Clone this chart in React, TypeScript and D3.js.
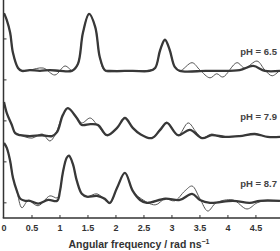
import * as d3 from "d3";

// angular frequency (rad/ns) vs intensity (a.u.), one panel per pH
const panelLabels = ["pH = 6.5", "pH = 7.9", "pH = 8.7"];
const panelOffsets = [3.22, 1.63, 0];

const fit65: [number, number][] = [
  [0, 1.41], [0.05, 1.24], [0.11, 0.93], [0.16, 0.44], [0.25, 0.07], [0.32, 0],
  [0.46, 0.02], [0.64, 0], [0.82, 0.02], [1.0, 0], [1.21, 0], [1.32, 0.17],
  [1.41, 0.93], [1.52, 1.39], [1.63, 1.07], [1.71, 0.34], [1.8, 0.02], [1.89, 0],
  [2.3, 0], [2.6, 0], [2.7, 0.07], [2.79, 0.51], [2.875, 0.76], [2.96, 0.51],
  [3.05, 0.1], [3.14, 0], [3.6, 0], [3.86, 0], [4.21, 0.02], [4.45, 0.12],
  [4.66, 0], [4.93, 0],
];
const data65: [number, number][] = [
  [0, 1.41], [0.05, 1.24], [0.11, 0.93], [0.16, 0.44], [0.25, 0.07], [0.32, 0],
  [0.46, 0.02], [0.7, 0.07], [0.91, -0.1], [1.09, 0.12], [1.23, 0], [1.32, 0.17],
  [1.41, 0.93], [1.52, 1.39], [1.63, 1.07], [1.71, 0.34], [1.8, 0], [1.98, -0.02],
  [2.34, 0], [2.6, 0.02], [2.7, 0.07], [2.79, 0.51], [2.875, 0.76], [2.96, 0.51],
  [3.05, 0.1], [3.14, 0], [3.36, 0.2], [3.5, 0.02], [3.68, -0.17], [3.8, -0.07],
  [3.91, -0.15], [4.16, 0.2], [4.3, 0.07], [4.52, 0.24], [4.66, 0.02], [4.79, -0.12],
  [4.93, 0.02],
];

const fit79: [number, number][] = [
  [0, 0.83], [0.05, 0.56], [0.14, 0.27], [0.2, 0.07], [0.29, 0.02], [0.46, 0],
  [0.68, 0.02], [0.86, 0], [0.95, 0.1], [1.05, 0.51], [1.14, 0.68], [1.3, 0.44],
  [1.39, 0.27], [1.54, 0.29], [1.68, 0.27], [1.84, 0.02], [2.02, 0.2], [2.16, 0.44],
  [2.3, 0.2], [2.43, 0.05], [2.64, -0.05], [2.79, 0.15], [2.91, 0.32], [3.11, 0.02],
  [3.32, 0.15], [3.54, -0.05], [3.71, 0.02], [3.95, -0.02], [4.21, 0], [4.48, 0.05],
  [4.71, -0.02], [4.93, -0.02],
];
const data79: [number, number][] = [
  [0, 0.83], [0.05, 0.56], [0.14, 0.27], [0.2, 0.07], [0.29, 0.02], [0.5, -0.05],
  [0.68, 0.05], [0.82, -0.12], [0.91, 0.02], [1.05, 0.51], [1.14, 0.68], [1.27, 0.51],
  [1.39, 0.32], [1.54, 0.44], [1.68, 0.24], [1.84, 0.02], [2.02, 0.2], [2.16, 0.44],
  [2.3, 0.2], [2.43, 0.05], [2.64, -0.05], [2.79, 0.18], [2.91, 0.34], [3.11, 0.02],
  [3.29, 0.32], [3.43, 0.1], [3.54, -0.05], [3.71, 0.05], [3.86, -0.02], [4.21, 0],
  [4.48, 0.05], [4.71, -0.02], [4.93, -0.02],
];

const fit87: [number, number][] = [
  [0, 1.46], [0.05, 1.34], [0.11, 1.02], [0.16, 0.61], [0.23, 0.29], [0.29, 0.1],
  [0.38, 0.05], [0.46, 0.05], [0.61, -0.02], [0.79, 0.07], [0.95, 0.05], [1.0, 0.29],
  [1.05, 0.73], [1.12, 1.1], [1.16, 1.15], [1.23, 0.95], [1.3, 0.54], [1.39, 0.22],
  [1.48, 0.15], [1.66, 0.17], [1.8, 0.1], [1.89, 0], [2.02, 0.37], [2.16, 0.73],
  [2.3, 0.29], [2.43, 0.07], [2.55, 0], [2.88, 0.1], [3.14, 0.07], [3.36, 0.22],
  [3.5, 0.07], [3.68, 0], [4.09, 0.05], [4.39, 0], [4.57, 0.05], [4.93, 0.05],
];
const data87: [number, number][] = [
  [0, 1.46], [0.05, 1.34], [0.11, 1.02], [0.16, 0.61], [0.23, 0.29], [0.32, -0.12],
  [0.43, 0.05], [0.61, -0.07], [0.82, 0.17], [0.95, 0.12], [1.0, 0.29], [1.05, 0.73],
  [1.12, 1.1], [1.16, 1.15], [1.23, 0.95], [1.3, 0.54], [1.39, 0.22], [1.48, 0.15],
  [1.66, 0.22], [1.8, 0.07], [1.89, -0.02], [2.02, 0.37], [2.16, 0.73], [2.3, 0.29],
  [2.43, 0.12], [2.7, -0.05], [2.88, 0.1], [3.05, 0.05], [3.23, 0.29], [3.36, 0.41],
  [3.5, 0.1], [3.64, -0.2], [3.79, 0], [4.09, 0.07], [4.34, -0.15], [4.52, 0],
  [4.66, 0.05], [4.93, 0.05],
];

const fits = [fit65, fit79, fit87];
const measured = [data65, data79, data87];

const xTicks = [0.5, 1, 1.5, 2, 2.5, 3, 3.5, 4, 4.5];
const xTickLabels = [0, 0.5, 1, 1.5, 2, 2.5, 3, 3.5, 4, 4.5];
const yTicks = [0, 1, 2, 3, 4];

export default function App() {
  const width = 280;
  const height = 251;
  const x = d3.scaleLinear().domain([0, 4.93]).range([4, 280]);
  const y = d3.scaleLinear().domain([-0.37, 4.95]).range([218, 0]);
  const font = "'Liberation Sans', Arial, sans-serif";

  const lineFor = (off: number) =>
    d3.line<[number, number]>()
      .x(d => x(d[0]))
      .y(d => y(d[1] + off))
      .curve(d3.curveCatmullRom.alpha(0.5));

  return (
    <svg width={width} height={height} style={{ position: "fixed", left: 0, top: 0, background: "#fff" }}>
      {/* traces */}
      {panelOffsets.map((off, i) => (
        <g key={i}>
          <path d={lineFor(off)(measured[i]) || ""} fill="none" stroke="#555" strokeWidth={1} />
          <path d={lineFor(off)(fits[i]) || ""} fill="none" stroke="#383838" strokeWidth={2.3} strokeLinejoin="round" />
          <text x={277} y={y(off + 0.38)} textAnchor="end" fill="#444"
            style={{ fontFamily: font, fontSize: "9.5px", fontWeight: 700 }}>
            {panelLabels[i]}
          </text>
        </g>
      ))}

      {/* axes */}
      <line x1={x(0) - 0.5} x2={x(0) - 0.5} y1={0} y2={218} stroke="#333" strokeWidth={1.5} />
      <line x1={x(0) - 1.25} x2={280} y1={218} y2={218} stroke="#333" strokeWidth={1.5} />
      {yTicks.map(t => (
        <line key={t} x1={x(0)} x2={x(0) + 2.5} y1={y(t)} y2={y(t)} stroke="#333" strokeWidth={1} />
      ))}
      {xTicks.map(t => (
        <line key={t} x1={x(t)} x2={x(t)} y1={218} y2={215} stroke="#333" strokeWidth={1} />
      ))}
      {xTickLabels.map(t => (
        <text key={t} x={x(t)} y={231} textAnchor="middle" fill="#333"
          style={{ fontFamily: font, fontSize: "9px", fontWeight: 700 }}>
          {t}
        </text>
      ))}
      <text x={139} y={248} textAnchor="middle" fill="#333"
        style={{ fontFamily: font, fontSize: "10.5px", fontWeight: 700 }}>
        Angular frequency / rad ns<tspan dy={-4} style={{ fontSize: "7px" }}>−1</tspan>
      </text>
    </svg>
  );
}
